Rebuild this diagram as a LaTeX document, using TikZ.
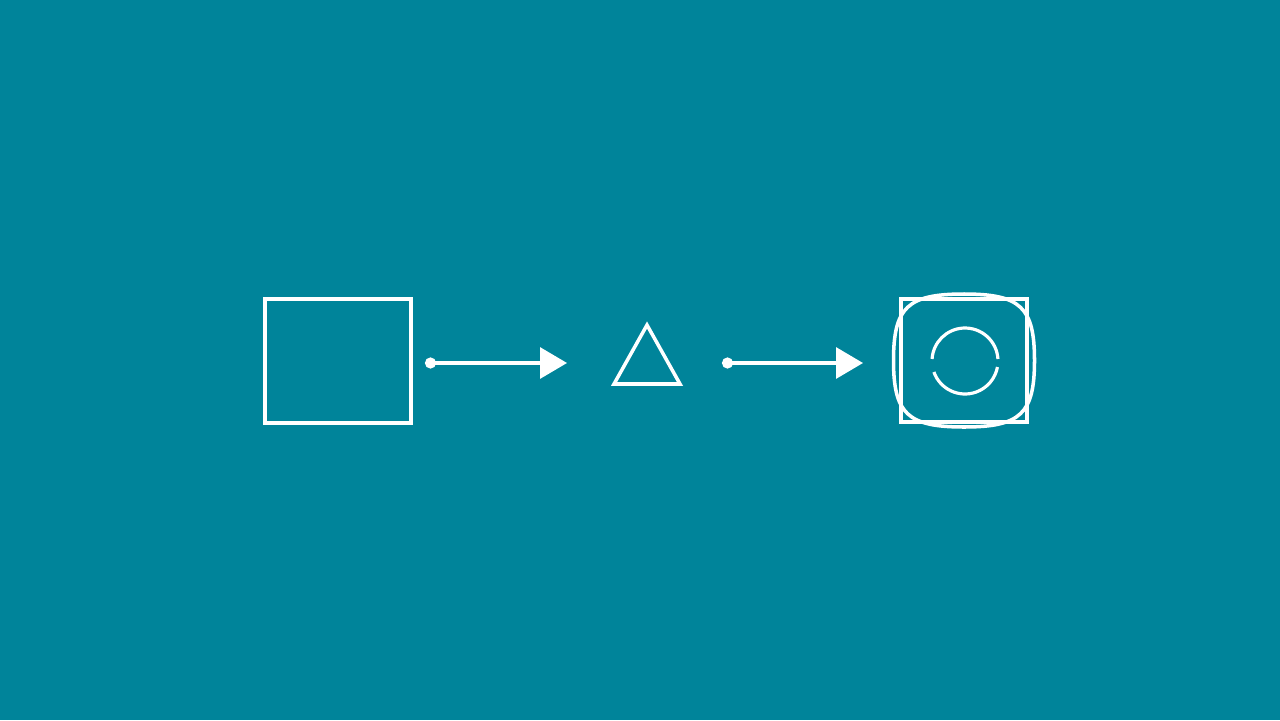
\documentclass[tikz,border=0pt]{standalone}
\usetikzlibrary{arrows.meta}
\definecolor{tealbg}{HTML}{00849A}
\begin{document}
\begin{tikzpicture}[x=0.02cm, y=-0.02cm,
    shapeline/.style={draw=white, line width=2pt},
    flow/.style={draw=white, line width=1.8pt, {Circle[length=0.22cm]}-{Triangle[length=0.54cm,width=0.62cm]}}]
% Background
\fill[tealbg] (0,0) rectangle (1280,720);
\useasboundingbox (0,0) rectangle (1280,720);

% Source block
\node[shapeline, rectangle, minimum width=2.92cm, minimum height=2.48cm, inner sep=0pt] (source) at (338,361) {};

% Triangle stage
\draw[shapeline, line join=miter] (647,325) -- (680,384) -- (614,384) -- cycle;

% Target block with rounded frame
\node[shapeline, rectangle, minimum width=2.52cm, minimum height=2.46cm, inner sep=0pt] (target) at (964,360.5) {};
\begin{scope}[shift={(target.center)}]
    \draw[shapeline] (0,-66.5) .. controls (56.4,-66.5) and (70.5,-53.2) .. (70.5,0)
        .. controls (70.5,53.2) and (56.4,66.5) .. (0,66.5)
        .. controls (-56.4,66.5) and (-70.5,53.2) .. (-70.5,0)
        .. controls (-70.5,-53.2) and (-56.4,-66.5) .. (0,-66.5) -- cycle;
\end{scope}

% Broken ring
\coordinate (ring) at (965,361);
\draw[shapeline, line width=1.8pt] (ring) ++(3.5:0.66cm) arc[start angle=3.5, end angle=176.5, radius=0.66cm];
\draw[shapeline, line width=1.8pt] (ring) ++(199.5:0.66cm) arc[start angle=199.5, end angle=349.5, radius=0.66cm];

% Connectors
\coordinate (out1) at (425,363);
\coordinate (in1) at (567,363);
\coordinate (out2) at (722,363);
\coordinate (in2) at (863,363);
\draw[flow] (out1) -- (in1);
\draw[flow] (out2) -- (in2);

\end{tikzpicture}
\end{document}
